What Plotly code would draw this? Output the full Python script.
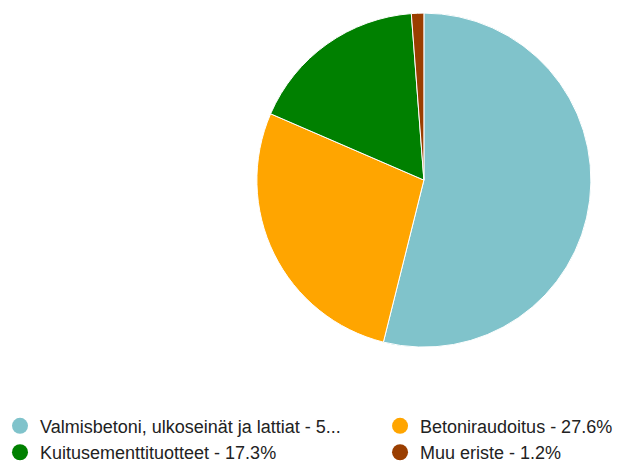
import plotly.graph_objects as go

labels = ["Valmisbetoni, ulkoseinät ja lattiat", "Betoniraudoitus", "Kuitusementtituotteet", "Muu eriste"]
values = [53.9, 27.6, 17.3, 1.2]
legend_texts = ["Valmisbetoni, ulkoseinät ja lattiat - 5...", "Betoniraudoitus - 27.6%",
                "Kuitusementtituotteet - 17.3%", "Muu eriste - 1.2%"]
legend_groups = ["legend", "legend2", "legend", "legend2"]
colors = ["#80c3cb", "#ffa500", "#008000", "#9a3e00"]

fig = go.Figure()
fig.add_trace(go.Pie(
    labels=labels, values=values, sort=False, direction="clockwise", rotation=0,
    marker=dict(colors=colors, line=dict(color="white", width=1)),
    textinfo="none", hoverinfo="label+percent", showlegend=False,
    domain=dict(x=[0.413, 0.95], y=[0.255, 0.972]),
))
for t, c, lg in zip(legend_texts, colors, legend_groups):
    fig.add_trace(go.Scatter(x=[None], y=[None], mode="markers", name=t, legend=lg,
                             marker=dict(symbol="circle", size=16, color=c)))

legend_style = dict(orientation="v", y=-0.01, yanchor="bottom", xanchor="left",
                    font=dict(size=18, color="#222222"), itemsizing="trace",
                    traceorder="normal", bgcolor="rgba(0,0,0,0)")
fig.update_layout(
    width=622, height=466,
    margin=dict(l=0, r=0, t=0, b=0, autoexpand=False),
    paper_bgcolor="white", plot_bgcolor="white",
    xaxis=dict(visible=False), yaxis=dict(visible=False),
    font=dict(family="Liberation Sans, Arial, sans-serif", size=18, color="#222222"),
    legend=dict(x=0, **legend_style),
    legend2=dict(x=0.611, **legend_style),
)
fig.write_html("out.html", config={"displayModeBar": False},
               post_script="document.body.style.margin='0';")
